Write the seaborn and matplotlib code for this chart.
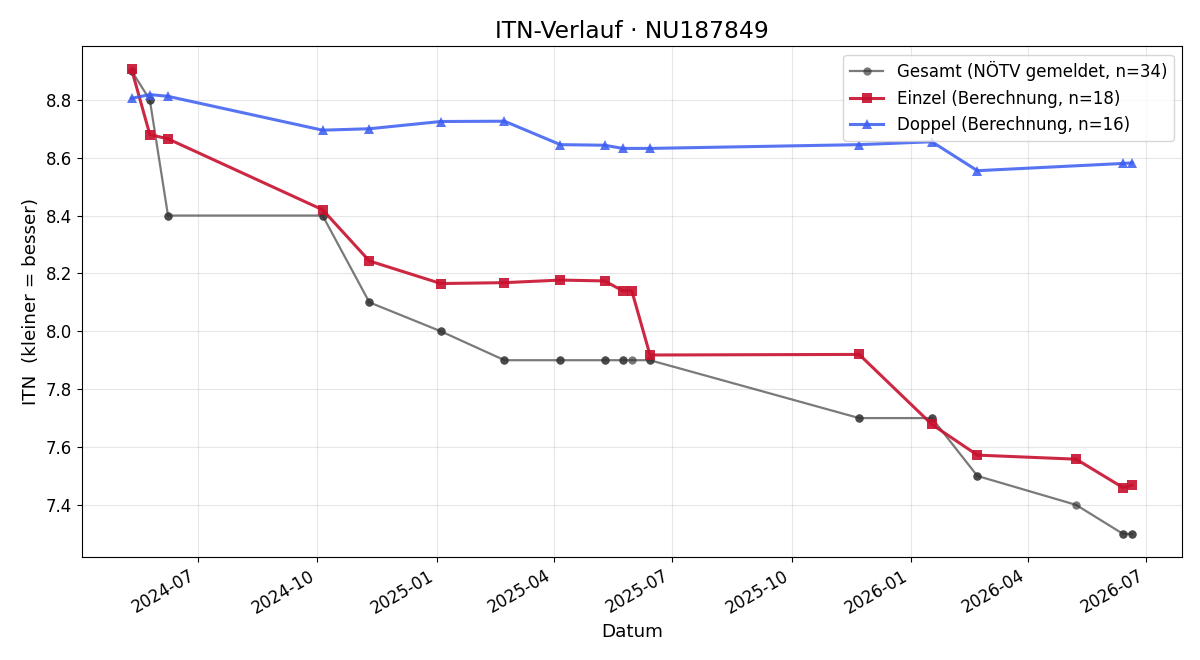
import matplotlib
matplotlib.use("Agg")
import matplotlib.pyplot as plt
import seaborn as sns
import pandas as pd
import matplotlib.dates as mdates

einzel_dates = ["2024-05-11", "2024-05-25", "2024-06-08", "2024-10-05", "2024-11-10",
                "2025-01-04", "2025-02-22", "2025-04-06", "2025-05-10", "2025-05-24",
                "2025-05-31", "2025-06-14", "2025-11-22", "2026-01-17", "2026-02-21",
                "2026-05-08", "2026-06-13", "2026-06-20"]
einzel_vals = [8.905, 8.68, 8.665, 8.42, 8.243, 8.165, 8.168, 8.177, 8.174, 8.14,
               8.14, 7.918, 7.92, 7.678, 7.572, 7.558, 7.46, 7.468]

doppel_dates = ["2024-05-11", "2024-05-25", "2024-06-08", "2024-10-05", "2024-11-10",
                "2025-01-04", "2025-02-22", "2025-04-06", "2025-05-10", "2025-05-24",
                "2025-06-14", "2025-11-22", "2026-01-17", "2026-02-21",
                "2026-06-13", "2026-06-20"]
doppel_vals = [8.805, 8.818, 8.812, 8.695, 8.70, 8.725, 8.726, 8.645, 8.643, 8.632,
               8.632, 8.645, 8.655, 8.555, 8.58, 8.582]

gesamt_dates = ["2024-05-11", "2024-05-25", "2024-06-08", "2024-10-05", "2024-11-10",
                "2025-01-04", "2025-02-22", "2025-04-06", "2025-05-10", "2025-05-24",
                "2025-05-31", "2025-06-14", "2025-11-22", "2026-01-17", "2026-02-21",
                "2026-05-08", "2026-06-13", "2026-06-20"]
gesamt_vals = [8.9, 8.8, 8.4, 8.4, 8.1, 8.0, 7.9, 7.9, 7.9, 7.9,
               7.9, 7.9, 7.7, 7.7, 7.5, 7.4, 7.3, 7.3]

# Gesamt list contains one entry per match (Einzel + Doppel dates)
g_map = dict(zip(gesamt_dates, gesamt_vals))
g_all = sorted(einzel_dates + doppel_dates)
df_g = pd.DataFrame({"Datum": pd.to_datetime(g_all), "ITN": [g_map[d] for d in g_all]})
df_e = pd.DataFrame({"Datum": pd.to_datetime(einzel_dates), "ITN": einzel_vals})
df_d = pd.DataFrame({"Datum": pd.to_datetime(doppel_dates), "ITN": doppel_vals})

plt.rcParams['font.family'] = ['DejaVu Sans']
fig, ax = plt.subplots(figsize=(12, 6.6), dpi=100)

sns.lineplot(data=df_g, x="Datum", y="ITN", ax=ax, color="#333333", alpha=0.65,
             marker="o", markersize=6, markeredgewidth=0, linewidth=1.6,
             estimator=None, sort=False, label="Gesamt (NÖTV gemeldet, n=34)")
sns.lineplot(data=df_e, x="Datum", y="ITN", ax=ax, color="#c8102e", alpha=0.9,
             marker="s", markersize=7, markeredgewidth=0, linewidth=2.2,
             estimator=None, sort=False, label="Einzel (Berechnung, n=18)")
sns.lineplot(data=df_d, x="Datum", y="ITN", ax=ax, color="#3a5cf2", alpha=0.85,
             marker="^", markersize=7, markeredgewidth=0, linewidth=2.2,
             estimator=None, sort=False, label="Doppel (Berechnung, n=16)")

ax.grid(True, alpha=0.3)
ax.tick_params(axis="both", which="both", labelsize=12)
ax.xaxis.set_major_locator(mdates.MonthLocator(bymonth=[1, 4, 7, 10]))
ax.xaxis.set_major_formatter(mdates.DateFormatter("%Y-%m"))
ax.set_title("ITN-Verlauf · NU187849", fontsize=16.8)
ax.set_xlabel("Datum", fontsize=13.2)
ax.set_ylabel("ITN  (kleiner = besser)", fontsize=13.2)
ax.legend(loc="upper right", fontsize=12, framealpha=0.8)
for lbl in ax.get_xticklabels():
    lbl.set_rotation(30)
    lbl.set_ha("right")
fig.subplots_adjust(left=0.068, right=0.985, top=0.930, bottom=0.156)
fig.savefig("out.png", dpi=100)
